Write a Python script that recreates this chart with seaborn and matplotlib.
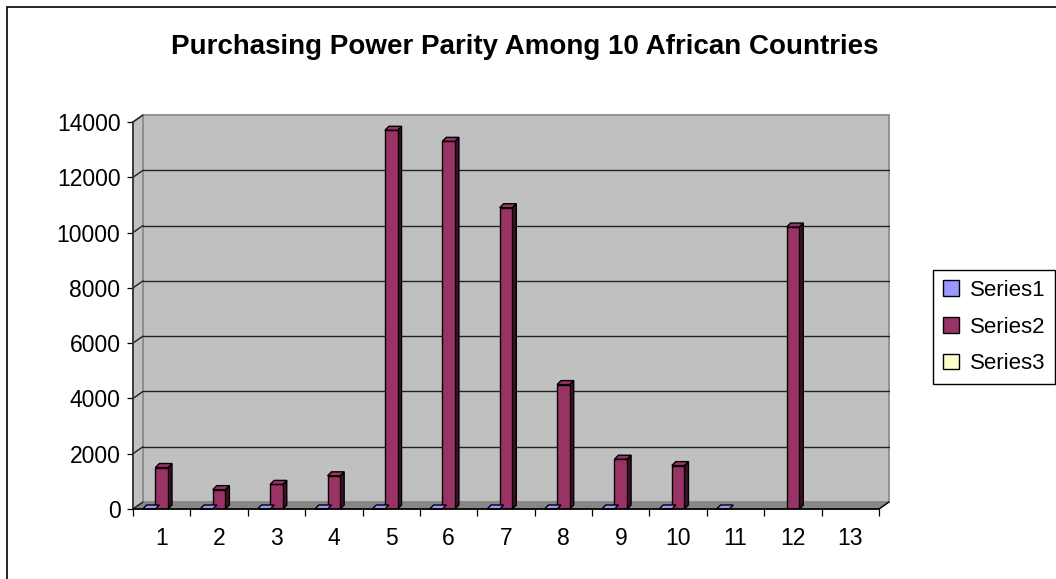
import numpy as np
import pandas as pd
import seaborn as sns
import matplotlib.pyplot as plt
from matplotlib.patches import Polygon, Rectangle, Patch

# chart data
countries = [str(i) for i in range(1, 14)]
series1 = [0, 0, 0, 0, 0, 0, 0, 0, 0, 0, 0, np.nan, np.nan]
series2 = [1500, 700, 890, 1200, 13700, 13300, 10900, 4500, 1800, 1570, np.nan, 10200, np.nan]
series3 = [np.nan] * 13
series_names = ["Series1", "Series2", "Series3"]
series_colors = ["#9999FF", "#993366", "#FFFFCC"]
side_colors = {"#9999FF": "#4D4D80", "#993366": "#3D1229", "#FFFFCC": "#808066"}
y_ticks = [0, 2000, 4000, 6000, 8000, 10000, 12000, 14000]
title = "Purchasing Power Parity Among 10 African Countries"

df = pd.DataFrame({
    "country": countries * 3,
    "series": [s for s in series_names for _ in countries],
    "value": series1 + series2 + series3,
}).dropna()

sns.set_theme(style="white")
plt.rcParams["font.family"] = ["Liberation Sans", "DejaVu Sans"]
plt.rcParams["text.color"] = "black"
plt.rcParams["xtick.color"] = "black"
plt.rcParams["ytick.color"] = "black"

fig = plt.figure(figsize=(10.56, 5.79), dpi=100)
ax = fig.add_axes([133 / 1056, 1 - 509 / 579, 746 / 1056, 387 / 579])
ax.set_facecolor("none")

sns.barplot(data=df, x="country", y="value", hue="series", order=countries,
            hue_order=series_names, palette=dict(zip(series_names, series_colors)),
            width=0.66, saturation=1, edgecolor="black", linewidth=1.0,
            errorbar=None, legend=False, ax=ax, zorder=3)
bars = [p for p in ax.patches if np.isfinite(p.get_height())]

ax.set_xlim(-0.5, len(countries) - 0.5)
ax.set_ylim(0, 14000)

# depth offsets in axes fractions (wall) and data units (bars)
w_px = 746.0
h_px = 387.0
wdx, wdy = 10 / w_px, 7 / h_px
bdx = 4 / w_px * len(countries)
bdy = 4 / h_px * 14000

# back wall, side wall and floor
ax.add_patch(Rectangle((wdx, wdy), 1, 1, transform=ax.transAxes,
                       facecolor="#C0C0C0", edgecolor="#8C8C8C", lw=1.3,
                       zorder=0, clip_on=False))
ax.add_patch(Polygon([(0, 0), (0, 1), (wdx, 1 + wdy), (wdx, wdy)],
                     closed=True, transform=ax.transAxes, facecolor="#C0C0C0",
                     edgecolor="#8C8C8C", lw=1.3, zorder=0.2, clip_on=False))
ax.add_patch(Polygon([(0, 0), (1, 0), (1 + wdx, wdy), (wdx, wdy)], closed=True,
                     transform=ax.transAxes, facecolor="#878787",
                     edgecolor="#878787", lw=0.8, zorder=0.3, clip_on=False))

# gridlines on the back wall plus the short diagonals on the side wall
for v in y_ticks:
    frac = v / 14000
    if 0 < v < 14000:
        ax.plot([wdx, 1 + wdx], [frac + wdy, frac + wdy], transform=ax.transAxes,
                color="#222222", lw=1.0, zorder=0.5, clip_on=False)
    ax.plot([0, wdx], [frac, frac + wdy], transform=ax.transAxes,
            color="#222222", lw=1.0, zorder=0.5, clip_on=False)
ax.plot([1, 1 + wdx], [0, wdy], transform=ax.transAxes, color="black",
        lw=1.0, zorder=4, clip_on=False)

# 3d top and side faces for every bar
for p in bars:
    x0, y0, w, h = p.get_x(), p.get_y(), p.get_width(), p.get_height()
    fc = p.get_facecolor()
    hexc = "#%02X%02X%02X" % tuple(int(round(c * 255)) for c in fc[:3])
    top = Polygon([(x0, y0 + h), (x0 + w, y0 + h), (x0 + w + bdx, y0 + h + bdy),
                   (x0 + bdx, y0 + h + bdy)], closed=True, facecolor=fc,
                  edgecolor="black", lw=1.0, zorder=3, clip_on=False)
    ax.add_patch(top)
    if h > 0:
        side = Polygon([(x0 + w, y0), (x0 + w + bdx, y0 + bdy),
                        (x0 + w + bdx, y0 + h + bdy), (x0 + w, y0 + h)], closed=True,
                       facecolor=side_colors.get(hexc, "#333333"), edgecolor="black",
                       lw=1.0, zorder=2.9, clip_on=False)
        ax.add_patch(side)

# axes, ticks and labels
for s in ["top", "right"]:
    ax.spines[s].set_visible(False)
ax.spines["left"].set_color("#333333")
ax.spines["bottom"].set_color("black")
ax.spines["left"].set_zorder(4)
ax.spines["bottom"].set_zorder(4)
ax.set_yticks(y_ticks)
ax.set_yticklabels([str(v) for v in y_ticks])
ax.set_xticks(range(len(countries)))
ax.set_xticklabels(countries)
ax.set_xticks(np.arange(-0.5, len(countries)), minor=True)
ax.tick_params(axis="y", which="major", direction="out", length=4.5, width=0.9,
               color="black", labelcolor="black", pad=4.5, labelsize=16.5, left=True)
ax.tick_params(axis="x", which="major", length=0, pad=13, labelsize=16.5,
               labelcolor="black")
ax.tick_params(axis="x", which="minor", direction="out", length=5, width=0.9,
               color="black", bottom=True)
ax.set_xlabel("")
ax.set_ylabel("")

fig.text(0.497, 1 - 47 / 579, title, ha="center", va="center",
         fontsize=20, fontweight="bold", color="black")

handles = [Patch(facecolor=c, edgecolor="black", lw=1.0) for c in series_colors]
fig.legend(handles, series_names, loc="upper left",
           bbox_to_anchor=(933 / 1056, 1 - 270 / 579), fontsize=16,
           frameon=True, fancybox=False, edgecolor="black", framealpha=1,
           handlelength=0.7, handleheight=0.7, handletextpad=0.5,
           labelspacing=0.7, borderpad=0.45, borderaxespad=0)

# outer chart border (left and top edges are inside the picture)
fig.add_artist(Rectangle((7 / 1056, -0.1), 1.2, 1.1 - 7 / 579,
                         transform=fig.transFigure, fill=False,
                         edgecolor="black", lw=1.2))

fig.savefig("out.png", dpi=100)
